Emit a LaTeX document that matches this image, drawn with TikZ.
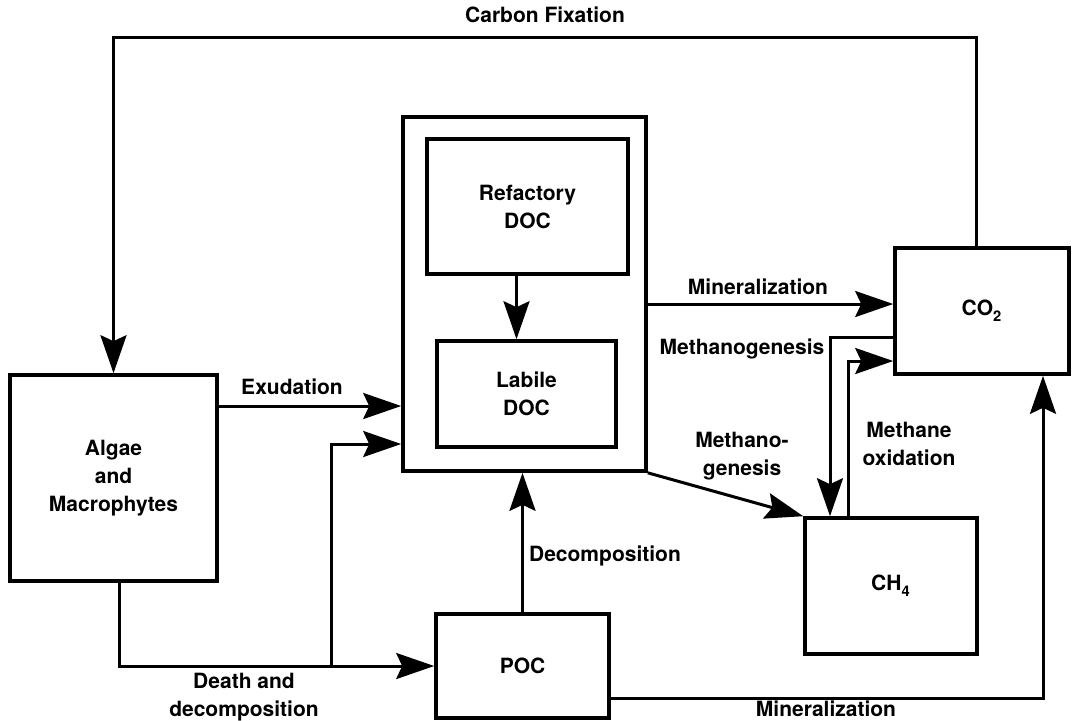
\documentclass[tikz,border=0pt]{standalone}
\usepackage{fontspec}
\newfontfamily\diagfont{TeX Gyre Heros}
\usetikzlibrary{positioning, arrows.meta, calc}
\tikzset{
  box/.style 2 args={
    draw, rectangle, line width=1.8pt,
    minimum width=#1*0.5pt, minimum height=#2*0.5pt,
    inner sep=0pt, align=center
  },
  lbl/.style={align=center, inner sep=0pt},
  flow/.style={
    draw, line width=1.5pt,
    -{Stealth[length=19pt, width=13pt, inset=3pt]}
  }
}

\begin{document}
\begin{tikzpicture}[x=0.5pt, y=-0.5pt,
  font=\diagfont\bfseries\fontsize{10.5}{14}\selectfont]
  \useasboundingbox (0,0) rectangle (1075,720);
  % compartments
  \node[box={207}{206}] (algae) at (113.5,478) {Algae\\and\\Macrophytes};
  \node[box={243}{354}] (doc) at (524.5,294) {};
  \node[box={201}{135}] (refdoc) at (527.5,206.5) {Refactory\\DOC};
  \node[box={179}{106}] (labdoc) at (526.5,394) {Labile\\DOC};
  \node[box={174}{126}] (co2) at (982,311) {CO\textsubscript{\raisebox{-1.5pt}{2}}};
  \node[box={172}{136}] (ch4) at (891,586) {CH\textsubscript{\raisebox{-1.5pt}{4}}};
  \node[box={173}{104}] (poc) at (522.5,666) {POC};
  % carbon fixation
  \coordinate (cfix) at (545,37);
  \draw[flow] ([xshift=-3pt]co2.north) |- (cfix) -| (algae.north);
  \node[lbl, above=7pt of cfix] (cfixlbl) {Carbon Fixation};
  % algae -> doc / poc
  \draw[flow] ([yshift=36pt]algae.east) -- ([yshift=36pt]algae.east -| doc.west);
  \node[lbl] (exudlbl) at (292,387) {Exudation};
  \draw[flow] ([xshift=3pt]algae.south) |- (poc.west);
  \coordinate (branch) at (331,666);
  \draw[flow] (branch) |- ([yshift=-75pt]doc.west);
  \node[lbl] (deathlbl) at (244,697) {Death and\\decomposition};
  \draw[flow] (poc.north) -- (poc.north |- doc.south);
  \node[lbl] (decolbl) at (605,556) {Decomposition};
  \draw[flow] ([xshift=-5.5pt]refdoc.south) -- ([xshift=-5.5pt]refdoc.south |- labdoc.north);
  % doc -> co2 / ch4
  \draw[flow] ([yshift=-5pt]doc.east) -- ([yshift=-5pt]doc.east -| co2.west);
  \node[lbl] (minlbl) at (758,287) {Mineralization};
  \draw[flow] (doc.south east) -- (ch4.north west);
  \node[lbl] (mgenlbl) at (742,456) {Methano-\\genesis};
  \draw[flow] ([yshift=-13pt]co2.west) -| ([xshift=-30.5pt]ch4.north);
  \node[lbl] (mgenlbl2) at (742,349) {Methanogenesis};
  \draw[flow] ([xshift=-21.5pt]ch4.north) |- ([yshift=-25pt]co2.west);
  \node[lbl] (moxlbl) at (909,444) {Methane\\oxidation};
  % poc -> co2
  \draw[flow] ([yshift=-16pt]poc.east) -| ([xshift=30.5pt]co2.south);
  \node[lbl] (minlbl2) at (826,709) {Mineralization};
\end{tikzpicture}
\end{document}
